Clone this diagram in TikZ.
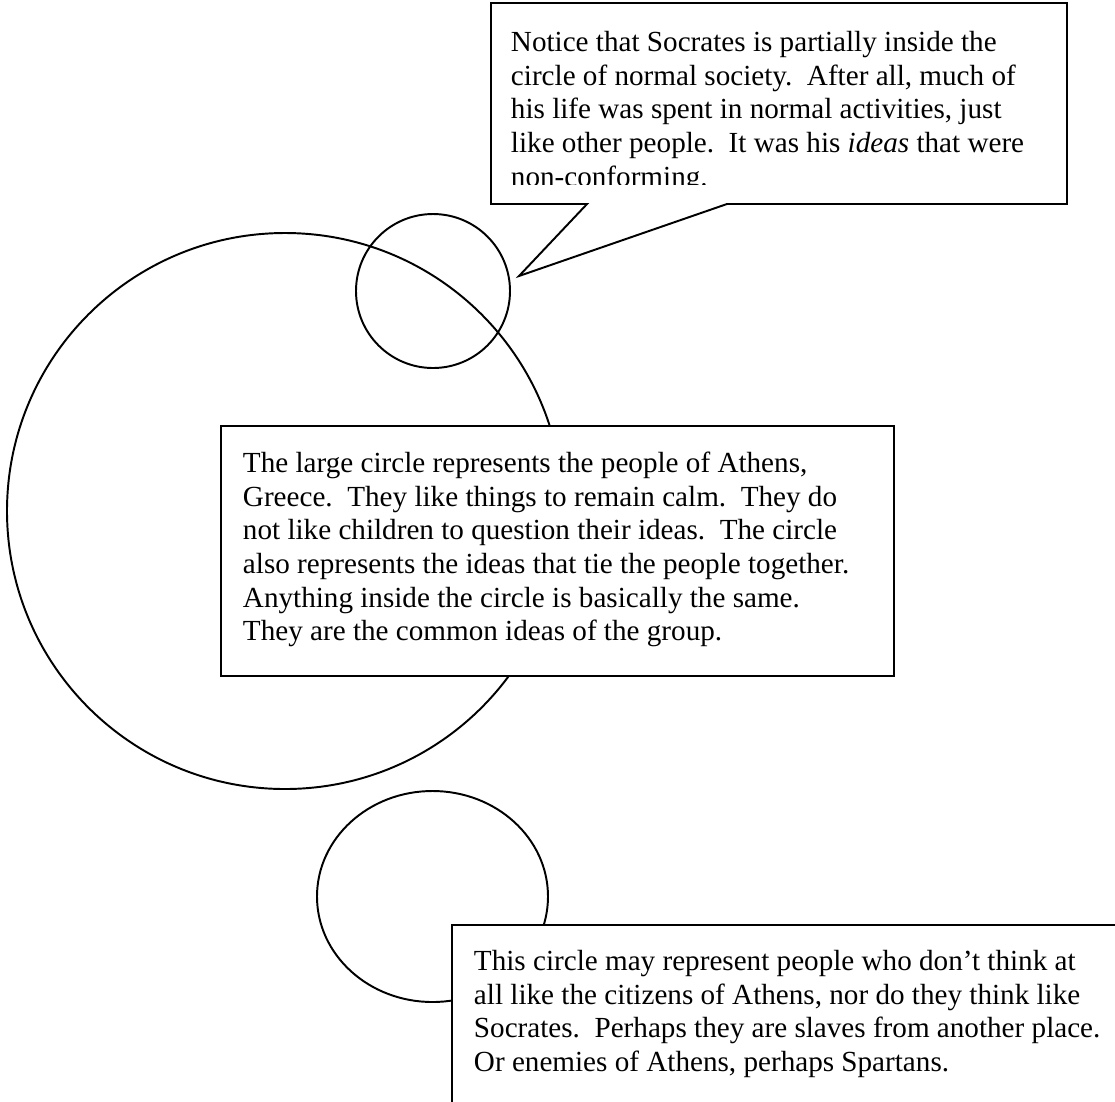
\documentclass[tikz,border=0pt]{standalone}
\usepackage{fontspec}
\setmainfont{Liberation Serif}
\usetikzlibrary{fit}
\tikzset{
  notebox/.style={draw, fill=white, inner sep=0pt},
  notetext/.style={anchor=north west, inner sep=0pt, align=left, font=\fontsize{12}{13.8}\selectfont},
}
\begin{document}
\begin{tikzpicture}[x=0.4117pt, y=-0.4117pt, line width=0.8pt]
            \useasboundingbox (0,0) rectangle (1115,1101);
            \clip (0,0) rectangle (1115,1101);
            \draw (285,511) circle[radius=278];
            \draw (433,291) circle[radius=77];
            \draw (432.5,896.5) ellipse[x radius=115.5, y radius=105.5];
            \coordinate (tailleft) at (587,204);
            \coordinate (tailtip) at (519,276);
            \coordinate (tailright) at (727,204);
            \draw[fill=white] (491,3) -- (1067,3) -- (1067,204) -- (tailright) -- (tailtip) -- (tailleft) -- (491,204) -- cycle;
            \begin{scope}
                \clip (491,3) rectangle (1067,184);
                \node[notetext] (socratesnote) at (510,27.5) {\strut Notice that Socrates is partially inside the\\
                    circle of normal society.\ \ After all, much of\\
                    his life was spent in normal activities, just\\
                    like other people.\ \ It was his \textit{ideas} that were\\
                    non-conforming.};
            \end{scope}
            \node[notebox, fit={(221,426) (894,676)}] (athensbox) {};
            \node[notetext] (athensnote) at (242,448.5) {\strut The large circle represents the people of Athens,\\
                Greece.\ \ They like things to remain calm.\ \ They do\\
                not like children to question their ideas.\ \ The circle\\
                also represents the ideas that tie the people together.\\
                Anything inside the circle is basically the same.\\
                They are the common ideas of the group.};
            \node[notebox, fit={(452,925) (1140,1130)}] (otherbox) {};
            \node[notetext] (othernote) at (473,946.5) {\strut This circle may represent people who don’t think at\\
                all like the citizens of Athens, nor do they think like\\
                Socrates.\ \ Perhaps they are slaves from another place.\\
                Or enemies of Athens, perhaps Spartans.};
        \end{tikzpicture}
\end{document}
